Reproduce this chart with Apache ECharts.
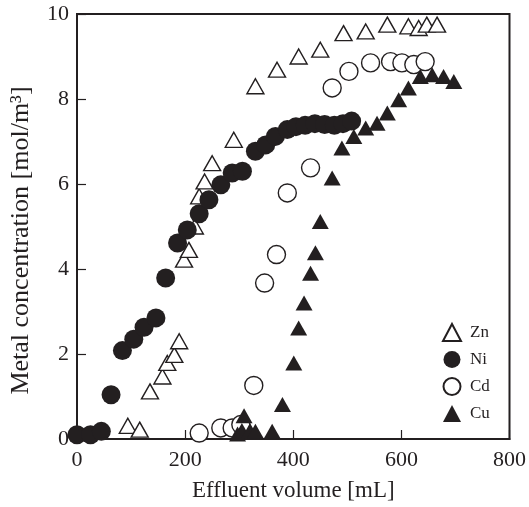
<!DOCTYPE html>
<html>
<head>
<meta charset="utf-8">
<script src="https://cdn.jsdelivr.net/npm/echarts@6/dist/echarts.min.js"></script>
<style>
  html, body { margin: 0; padding: 0; background: #fff; }
  #chart { width: 529px; height: 507px; }
</style>
</head>
<body>
<div id="chart"></div>
<script>
var dom = document.getElementById('chart');
var chart = echarts.init(dom, null, { renderer: 'canvas' });

// effluent volume [mL], concentration [mol/m3]
var zn = [[94,0.31],[116,0.22],[135,1.12],[158,1.47],[167,1.79],[180,1.98],[189,2.3],
  [198,4.22],[207,4.45],[218,5.0],[226,5.71],[236,6.06],[250,6.49],[290,7.04],[330,8.3],
  [370,8.69],[410,9.0],[450,9.16],[493,9.55],[534,9.59],[574,9.75],[613,9.71],[632,9.67],
  [647,9.75],[666,9.75]];
var ni = [[0,0.1],[25,0.1],[45,0.18],[63,1.04],[84,2.08],[105,2.35],[124,2.63],[146,2.85],
  [164,3.79],[186,4.61],[204,4.92],[226,5.3],[244,5.63],[266,5.98],[287,6.26],[306,6.3],
  [330,6.77],[349,6.92],[367,7.12],[389,7.28],[405,7.35],[422,7.38],[440,7.42],[458,7.4],
  [476,7.38],[492,7.42],[508,7.48]];
var cd = [[226,0.14],[266,0.26],[287,0.26],[303,0.34],[327,1.26],[347,3.67],[369,4.34],
  [389,5.79],[432,6.38],[472,8.26],[503,8.65],[543,8.85],[580,8.88],[601,8.85],[623,8.81],
  [644,8.88]];
var cu = [[297,0.12],[305,0.2],[309,0.55],[320,0.2],[330,0.18],[361,0.18],[380,0.81],
  [401,1.79],[410,2.61],[420,3.2],[432,3.9],[441,4.38],[450,5.12],[472,6.14],[490,6.85],
  [512,7.12],[534,7.32],[555,7.43],[574,7.67],[595,7.98],[613,8.26],[635,8.53],[657,8.57],
  [678,8.53],[697,8.41]];
var xTicks = [0, 800, 200];
var yTicks = [0, 10, 2];

var ink = '#231f20';
var font = '"Liberation Serif", "Times New Roman", serif';

function openStyle() {
  return { color: '#ffffff', borderColor: ink, borderWidth: 1.4, opacity: 1 };
}
function fillStyle() {
  return { color: ink, borderColor: ink, borderWidth: 0, opacity: 1 };
}

var option = {
  animation: false,
  backgroundColor: '#ffffff',
  grid: {
    left: 76, right: 18, top: 14, bottom: 68,
    show: true, borderColor: ink, borderWidth: 2, backgroundColor: 'transparent'
  },
  legend: {
    orient: 'vertical',
    left: 437, top: 318,
    itemWidth: 18, itemHeight: 17, itemGap: 9,
    textStyle: { fontFamily: font, fontSize: 17, color: ink, padding: [0, 0, 0, 4] },
    data: ['Zn', 'Ni', 'Cd', 'Cu']
  },
  xAxis: {
    type: 'value',
    min: xTicks[0], max: xTicks[1], interval: xTicks[2],
    name: 'Effluent volume [mL]',
    nameLocation: 'middle', nameGap: 40,
    nameTextStyle: { fontFamily: font, fontSize: 23, color: ink },
    axisLine: { show: true, lineStyle: { color: ink, width: 2 } },
    axisTick: { show: true, inside: true, length: 9, lineStyle: { color: ink, width: 1.2 } },
    axisLabel: { fontFamily: font, fontSize: 22, color: ink, margin: 10 },
    splitLine: { show: false }
  },
  yAxis: {
    type: 'value',
    min: yTicks[0], max: yTicks[1], interval: yTicks[2],
    name: 'Metal concentration [mol/m³]',
    nameLocation: 'middle', nameGap: 43,
    nameTextStyle: { fontFamily: font, fontSize: 26, color: ink, padding: [0, 28, 0, 0] },
    axisLine: { show: true, lineStyle: { color: ink, width: 2 } },
    axisTick: { show: true, inside: true, length: 9, lineStyle: { color: ink, width: 1.2 } },
    axisLabel: { fontFamily: font, fontSize: 22, color: ink, margin: 8 },
    splitLine: { show: false }
  },
  series: [
    { name: 'Zn', type: 'scatter', data: zn, symbol: 'triangle', symbolSize: [17, 15], itemStyle: openStyle() },
    { name: 'Ni', type: 'scatter', data: ni, symbol: 'circle', symbolSize: 19, itemStyle: fillStyle() },
    { name: 'Cd', type: 'scatter', data: cd, symbol: 'circle', symbolSize: 18, itemStyle: openStyle() },
    { name: 'Cu', type: 'scatter', data: cu, symbol: 'triangle', symbolSize: [17, 15], itemStyle: fillStyle() }
  ]
};

chart.setOption(option);
window.addEventListener('resize', chart.resize);
</script>
</body>
</html>
